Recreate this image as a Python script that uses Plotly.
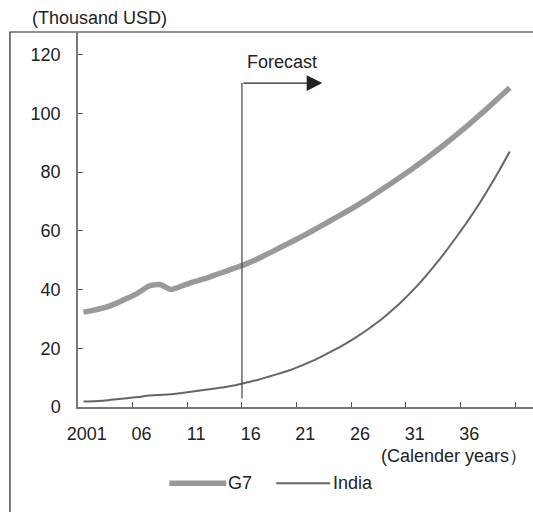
import plotly.graph_objects as go

years = list(range(2001, 2041))
g7 = [32.3, 33.0, 33.9, 35.3, 37.0, 38.9, 41.2, 41.7, 40.0, 41.2,
      42.5, 43.6, 44.9, 46.2, 47.5, 48.9, 50.6, 52.4, 54.3, 56.2,
      58.1, 60.1, 62.2, 64.3, 66.4, 68.6, 70.9, 73.3, 75.8, 78.3,
      80.9, 83.6, 86.4, 89.3, 92.3, 95.4, 98.6, 101.9, 105.3, 108.7]
india = [1.9, 2.0, 2.2, 2.6, 3.0, 3.4, 3.9, 4.1, 4.3, 4.8,
         5.3, 5.8, 6.3, 6.8, 7.5, 8.4, 9.3, 10.4, 11.5, 12.7,
         14.2, 15.8, 17.6, 19.5, 21.6, 23.9, 26.4, 29.1, 32.2, 35.5,
         39.2, 43.2, 47.6, 52.3, 57.3, 62.5, 68.0, 74.0, 80.3, 87.0]
x_tick_years = [2001, 2006, 2011, 2016, 2021, 2026, 2031, 2036]
x_tick_text = ["2001", "06", "11", "16", "21", "26", "31", "36"]
y_ticks = [0, 20, 40, 60, 80, 100, 120]
series_names = ["G7", "India"]
forecast_start = 2015.5

FONT = "Liberation Sans, Arial, sans-serif"
FS = 18
C_G7 = "#999999"
C_IN = "#666666"
TXT = "#222222"

fig = go.Figure()
fig.add_trace(go.Scatter(x=years, y=g7, mode="lines", name=series_names[0],
                         line=dict(color=C_G7, width=5.5, shape="spline", smoothing=0.6),
                         showlegend=False))
fig.add_trace(go.Scatter(x=years, y=india, mode="lines", name=series_names[1],
                         line=dict(color=C_IN, width=2, shape="spline", smoothing=0.6),
                         showlegend=False))

# plot geometry helpers (paper coords)
L, R, T, B = 77.6, 533.0, 32.0, 406.7
W, H = R - L, B - T


def px(xp):
    return (xp - L) / W


def py(yp):
    return (B - yp) / H


def text(x, y, s, xanchor="center", xref="paper", yref="paper"):
    fig.add_annotation(x=x, y=y, xref=xref, yref=yref, text=s, showarrow=False,
                       xanchor=xanchor, yanchor="middle",
                       font=dict(family=FONT, size=FS, color=TXT))


# forecast vertical line
fig.add_shape(type="line", xref="x", yref="y", x0=forecast_start, x1=forecast_start,
              y0=2.9, y1=110.3, line=dict(color="#444444", width=1.2))
# forecast arrow (horizontal)
fig.add_annotation(x=2022.85, y=110.3, ax=forecast_start, ay=110.3, xref="x", yref="y",
                   axref="x", ayref="y", showarrow=True, arrowhead=2, arrowsize=2.6,
                   arrowwidth=1.2, arrowcolor="#222222", text="")
text(2019.2, 117.5, "Forecast", xref="x", yref="y")

# frame
fig.add_shape(type="rect", xref="paper", yref="paper", x0=px(9.5), x1=1.2, y0=-0.6, y1=1,
              line=dict(color="#222222", width=1.2), layer="below")

# unit label / axis label
text(px(99), py(18), "(Thousand USD)")
text(px(529), py(456), "(Calender years）", xanchor="right")

# manual legend
fig.add_shape(type="line", xref="paper", yref="paper", x0=px(169), x1=px(226),
              y0=py(483), y1=py(483), line=dict(color=C_G7, width=5.5))
text(px(226), py(483), series_names[0], xanchor="left")
fig.add_shape(type="line", xref="paper", yref="paper", x0=px(276), x1=px(330),
              y0=py(483), y1=py(483), line=dict(color=C_IN, width=2))
text(px(331), py(483), series_names[1], xanchor="left")

fig.update_layout(
    width=533, height=512,
    margin=dict(l=L, r=0, t=T, b=512 - B, pad=0),
    paper_bgcolor="white", plot_bgcolor="white",
    font=dict(family=FONT, size=FS, color=TXT),
    showlegend=False,
    xaxis=dict(range=[2000.5, 2000.5 + W / 10.94], showgrid=False, zeroline=False,
               showline=True, linecolor="#777777", linewidth=1.5,
               tickvals=[v + 0.3 for v in x_tick_years], ticktext=x_tick_text, ticks="",
               ticklabelstandoff=10,
               minor=dict(tickvals=[2005.5 + 5 * i for i in range(8)], ticks="inside",
                          ticklen=5, tickcolor="#555555", tickwidth=1)),
    yaxis=dict(range=[0, 127.7], showgrid=False, zeroline=False, showline=True,
               linecolor="#777777", linewidth=1.5, tickvals=y_ticks, ticks="inside",
               ticklen=5, tickcolor="#555555", tickwidth=1, ticklabelstandoff=12),
)

fig.write_html("out.html", config={"displayModeBar": False},
               post_script="document.body.style.margin='0';document.body.style.overflow='hidden';")
